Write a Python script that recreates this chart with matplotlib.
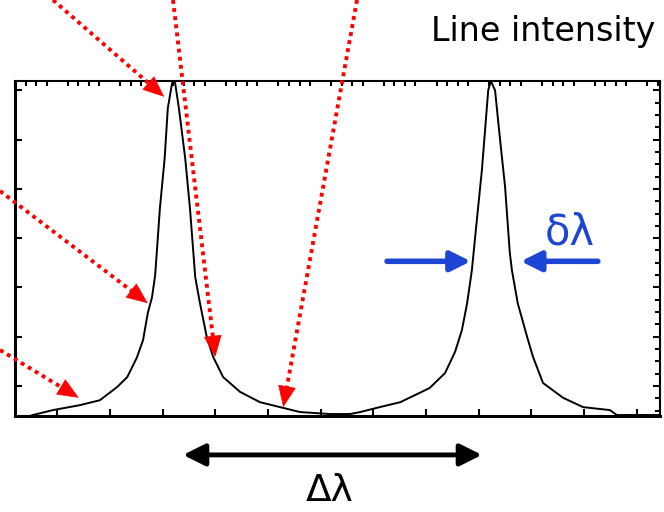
import matplotlib
matplotlib.use("Agg")
import matplotlib.pyplot as plt
import numpy as np
from matplotlib.lines import Line2D
from matplotlib.ticker import MultipleLocator

# line profile (two emission lines)
wavelength = [-0.52, -0.46, -0.08, 0.43, 0.81, 1.14, 1.33, 1.51, 1.63, 1.72, 1.80, 1.86,
              1.95, 2.04, 2.10, 2.18, 2.21, 2.24, 2.31, 2.43, 2.52, 2.62, 2.71, 2.84,
              2.96, 3.15, 3.47, 3.85, 4.23, 4.61, 5.18, 5.56, 5.75, 6.12, 6.51, 6.88,
              7.07, 7.36, 7.55, 7.68, 7.78, 7.87, 7.97, 8.06, 8.12, 8.18, 8.23, 8.31,
              8.40, 8.50, 8.59, 8.63, 8.74, 8.92, 9.03, 9.22, 9.60, 9.98, 10.49, 10.62,
              11.44]
intensity = [-0.61, -0.59, -0.49, -0.39, -0.29, -0.02, 0.18, 0.57, 0.93, 1.48, 1.80, 2.25,
             3.61, 4.62, 5.64, 6.14, 6.19, 6.14, 5.64, 4.62, 3.61, 2.21, 1.68, 0.99,
             0.59, 0.18, -0.12, -0.33, -0.43, -0.53, -0.57, -0.57, -0.53, -0.43, -0.33, -0.14,
             -0.04, 0.26, 0.69, 1.13, 1.68, 2.35, 3.43, 4.38, 5.19, 6.00, 6.19, 6.00,
             5.05, 4.04, 2.70, 2.35, 1.68, 0.99, 0.59, 0.06, -0.24, -0.43, -0.49, -0.59,
             -0.59]

# red pointers: tip on the curve (data), tail at the figure edge (pixels)
pointer_tips = [(2.03, 5.87), (3.00, 0.59), (4.29, -0.43), (1.72, 1.68), (0.41, -0.24)]
pointer_tails = [(53, 0), (173, 0), (357, 0), (0, 191), (0, 350)]

line_peaks = (2.39, 8.06)      # ends of the delta-lambda arrow
half_width = (7.85, 8.80)      # tips of the delta-lambda (small) arrows
half_tails = (6.26, 10.26)
half_level = 2.53

W, H = 664, 512
fig = plt.figure(figsize=(W / 100, H / 100), dpi=100)
ax = fig.add_axes([15 / W, (H - 416) / H, 645 / W, 335 / H])

ax.plot(wavelength, intensity, color="black", lw=1.4)
ax.set_xlim(-0.8, 11.44)
ax.set_ylim(-0.61, 6.19)

ax.xaxis.set_major_locator(MultipleLocator(1))
ax.xaxis.set_minor_locator(MultipleLocator(0.2))
ax.yaxis.set_major_locator(MultipleLocator(1))
ax.yaxis.set_minor_locator(MultipleLocator(0.25))
ax.tick_params(which="both", direction="in", top=True, right=True,
               labelbottom=False, labelleft=False, width=1.5)
ax.tick_params(which="major", length=5)
ax.tick_params(which="minor", length=3.5, left=False, bottom=False)
ax.tick_params(axis="x", which="major", top=False)
for side, lw in [("left", 2.2), ("bottom", 2.2), ("top", 1.5), ("right", 1.5)]:
    ax.spines[side].set_linewidth(lw)

red = "#ff0000"
head_px = 14
for tip, tail in zip(pointer_tips, pointer_tails):
    tip_px = ax.transData.transform(tip)
    tail_px = np.array([tail[0], H - tail[1]], dtype=float)
    direction = (tip_px - tail_px) / np.hypot(*(tip_px - tail_px))
    base_px = tip_px - head_px * direction
    # dotted shaft in figure pixels, solid head on top
    fig.add_artist(Line2D([tail_px[0] / W, base_px[0] / W], [tail_px[1] / H, base_px[1] / H],
                          transform=fig.transFigure, color=red, lw=2.8,
                          linestyle=(0, (1, 1.1)), dash_capstyle="butt"))
    base = ax.transData.inverted().transform(base_px)
    ax.annotate("", xy=tip, xytext=base, annotation_clip=False,
                arrowprops=dict(arrowstyle="-|>,head_length=1.3,head_width=0.55",
                                mutation_scale=11, color=red, lw=0.5,
                                shrinkA=0, shrinkB=0))

blue = "#1c45d4"
for tip, tail in zip(half_width, half_tails):
    ax.annotate("", xy=(tip, half_level), xytext=(tail, half_level),
                arrowprops=dict(arrowstyle="-|>,head_length=1.2,head_width=0.6",
                                mutation_scale=10, color=blue, lw=4,
                                shrinkA=0, shrinkB=0))
ax.text(9.73, 3.12, "δλ", color=blue, fontsize=30, ha="center", va="center")

ax.annotate("", xy=(line_peaks[0], -1.40), xytext=(line_peaks[1], -1.40),
            annotation_clip=False,
            arrowprops=dict(arrowstyle="<|-|>,head_length=1.1,head_width=0.55",
                            mutation_scale=12, color="black", lw=3.5,
                            shrinkA=0, shrinkB=0))
ax.text(5.18, -1.77, "Δλ", fontsize=27, ha="center", va="top", clip_on=False)

fig.text(655 / W, 1 - 32 / H, "Line intensity", fontsize=24, ha="right", va="center")

fig.savefig("out.png", dpi=100)
